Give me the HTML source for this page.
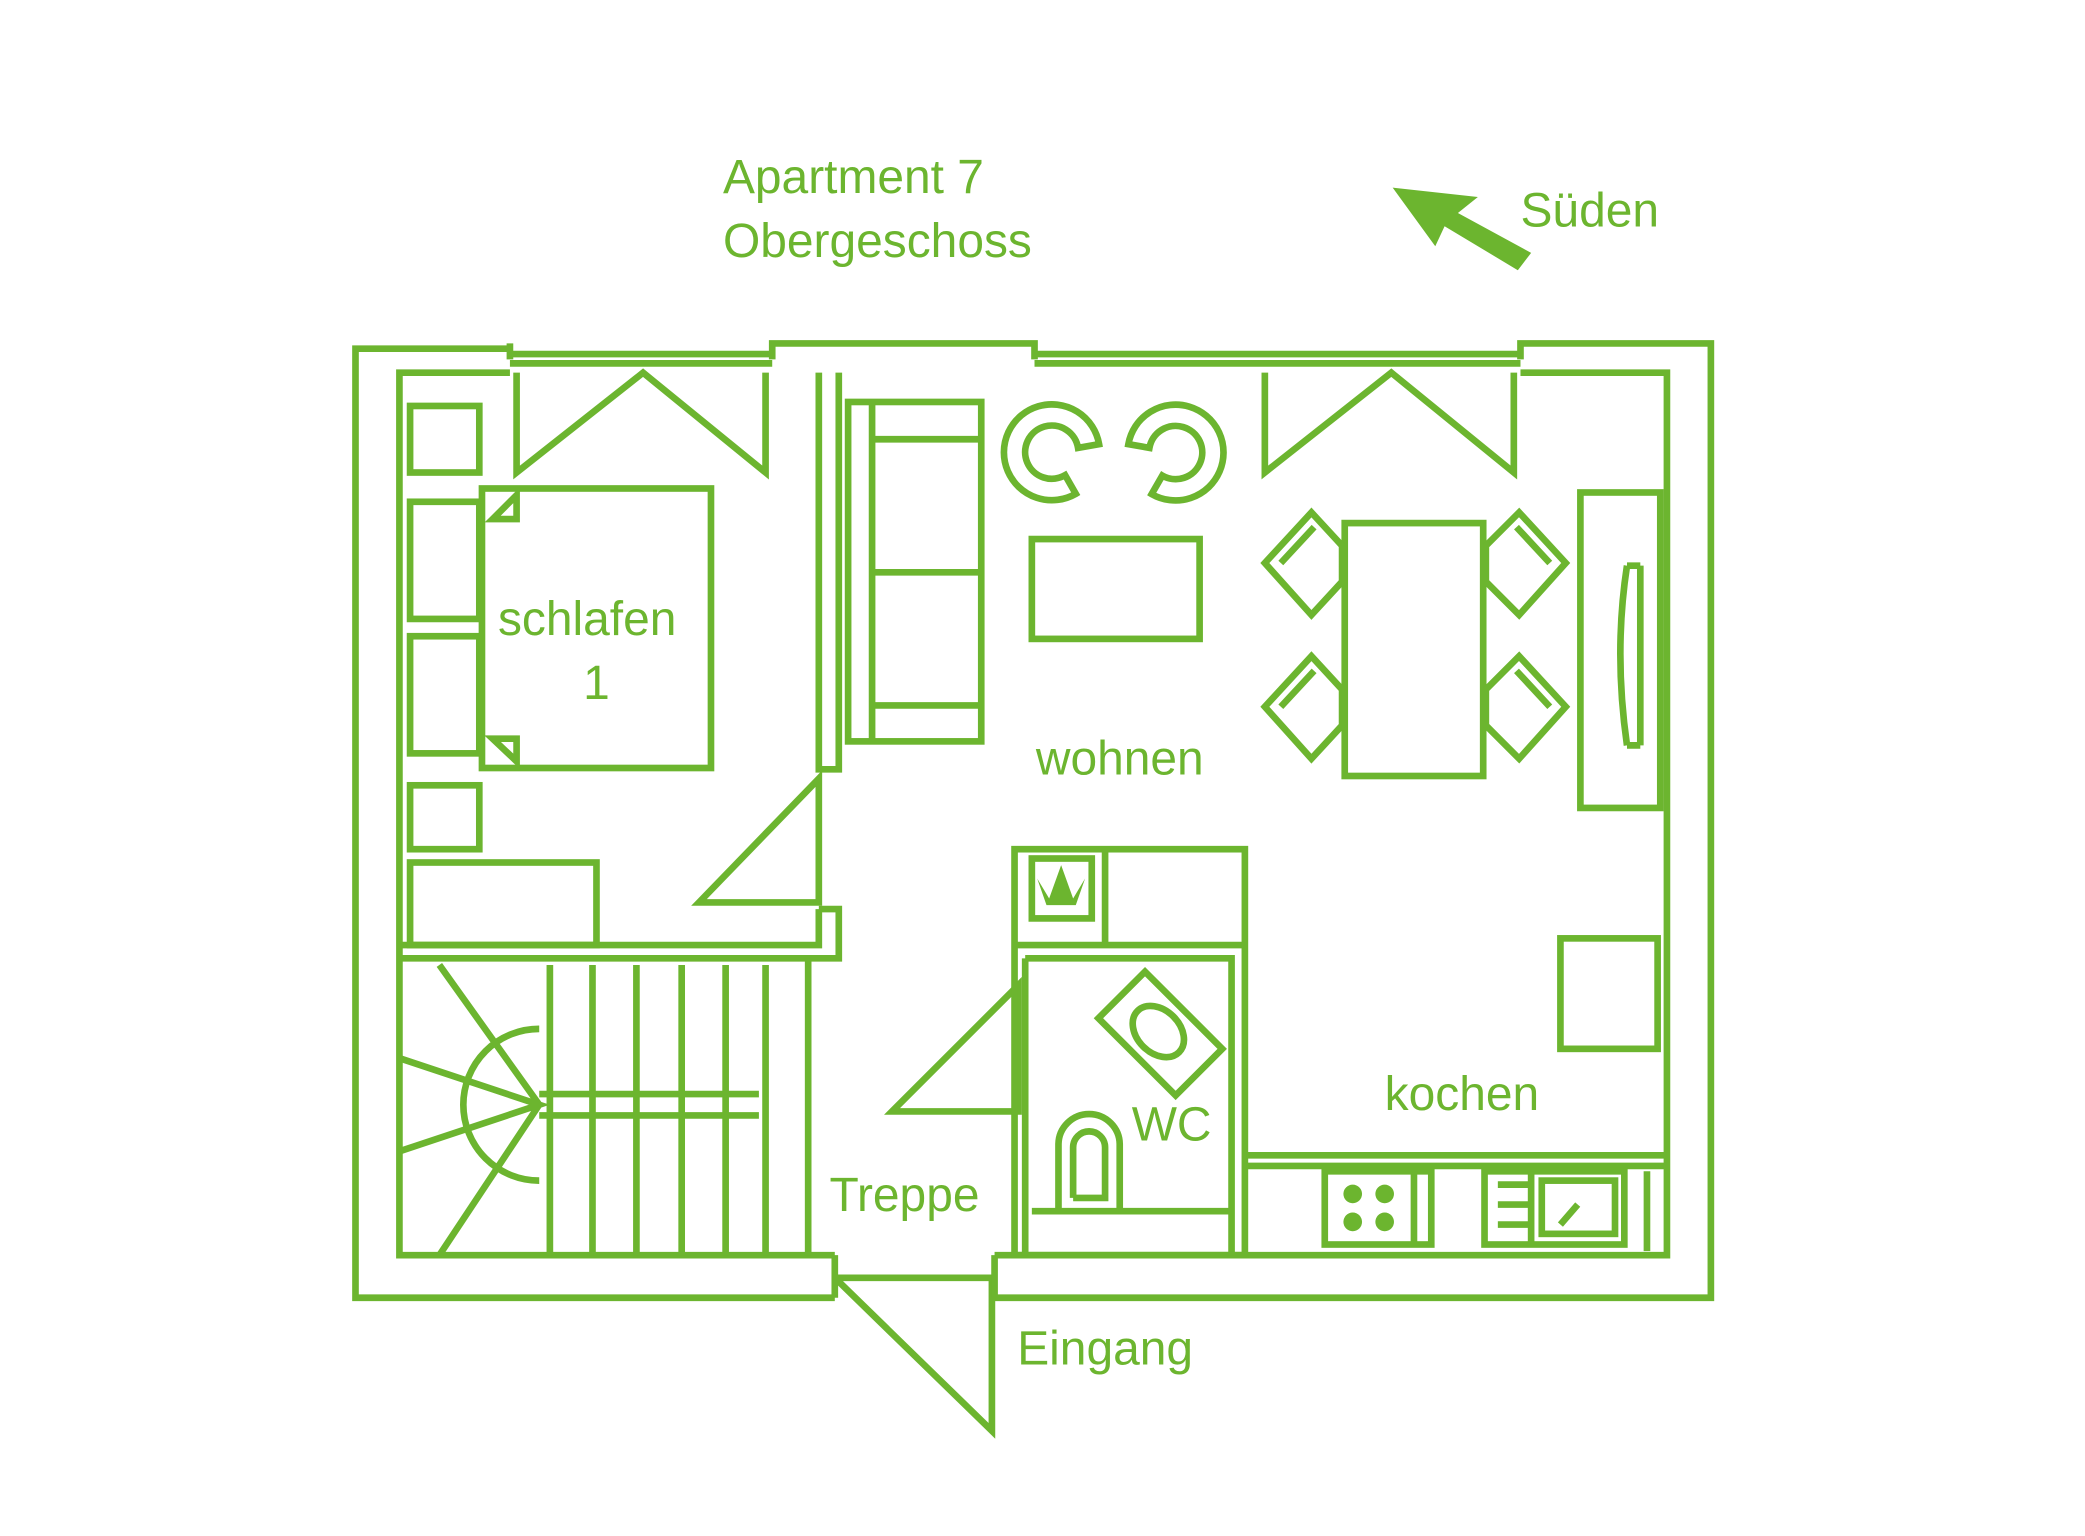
<!DOCTYPE html>
<html><head><style>html,body{margin:0;padding:0;background:#fff}svg{display:block}</style></head>
<body>
<svg width="2085" height="1536" viewBox="0 0 1566 1154" preserveAspectRatio="none" xmlns="http://www.w3.org/2000/svg">
<g fill="none" stroke="#6cb52f" stroke-width="5">
<!-- outer walls -->
<path d="M383 262 H267 V975 H627 M747 975 H1285 V258 H1142 V270 M580 270 V258 H777 V270 M383 270 V258"/>
<path d="M383 266 H580 M383 273 H580 M777 266 H1142 M777 273 H1142"/>
<path d="M383 280 H300 V943 H627 M747 943 H1252 V280 H1142"/>
<!-- schlafen/wohnen wall -->
<path d="M615 280 V578 H630 V280 M615 683 H630 V720 H300 M300 710 H615 V683"/>
<!-- stairs -->
<path d="M607 720 V943"/>
<path d="M413 725 V943 M445 725 V943 M478 725 V943 M512 725 V943 M545 725 V943 M575 725 V943"/>
<path d="M405 822 H570 M405 838 H570 M405 773 A57 57 0 0 0 405 887"/>
<path d="M330 725 L405 830 L330 943 M300 795 L405 830 L300 865"/>
<!-- doors -->
<path d="M525 678 L615 585 V678 Z"/>
<path d="M670 835 L765 740 V835 Z"/>
<path d="M627 960 L745 1075 V960 M627 960 H745"/>
<path d="M627 943 V975 M747 943 V975"/>
<!-- windows triangles -->
<path d="M388 280 V355 L483 280 L575 355 V280"/>
<path d="M950 280 V355 L1045 280 L1137 355 V280"/>
<!-- schlafen furniture -->
<rect x="308" y="305" width="52" height="50"/>
<rect x="308" y="377" width="52" height="88"/>
<rect x="308" y="478" width="52" height="88"/>
<rect x="308" y="590" width="52" height="48"/>
<rect x="308" y="648" width="140" height="62"/>
<rect x="362" y="367" width="172" height="210"/>
<path d="M370 390 L388 372 V390 Z M370 555 L388 572 V555 Z"/>
<!-- sofa -->
<rect x="637" y="302" width="100" height="255"/>
<path d="M655 302 V557 M655 330 H737 M655 430 H737 M655 530 H737"/>
<!-- chairs round -->
<path d="M825.5 333.7 A36 36 0 1 0 808 371 L800 357 A20 20 0 1 1 809.7 336.5 Z"/>
<path d="M847.5 333.7 A36 36 0 1 1 865 371.2 L873 357.3 A20 20 0 1 0 863.3 336.5 Z"/>
<rect x="775" y="405" width="126" height="75"/>
<!-- dining -->
<rect x="1010" y="393" width="104" height="190"/>
<path d="M950 423 L985 385 L1008 410 V437 L985 462 Z M962 423 L987 396"/>
<path d="M950 531 L985 493 L1008 518 V545 L985 570 Z M962 531 L987 504"/>
<path d="M1176 423 L1141 385 L1116 410 V437 L1141 462 Z M1164 423 L1139 396"/>
<path d="M1176 531 L1141 493 L1116 518 V545 L1141 570 Z M1164 531 L1139 504"/>
<!-- tv cabinet -->
<rect x="1187" y="370" width="60" height="237"/>
<path d="M1232 425 V560 M1222 425 Q1212 490 1222 560 M1222 425 H1232 M1222 560 H1232"/>
<rect x="1172" y="705" width="73" height="83"/>
<!-- wc block -->
<rect x="762" y="638" width="173" height="305"/>
<path d="M762 710 H935 M830 638 V710 M770 720 H925 V943 M770 720 V943"/>
<rect x="775" y="645" width="45" height="45"/>
<path d="M775 910 H925"/>
<path d="M795 908 V860 A23 23 0 0 1 841 860 V908 M806 900 V862 A12 12 0 0 1 830 862 V900 H806"/>
<path d="M825 765 L860 730 L918 788 L883 823 Z"/>
<ellipse cx="870" cy="775" rx="22" ry="16" transform="rotate(45 870 775)"/>
<!-- kitchen -->
<path d="M936 868 H1252 M936 876 H1252"/>
<rect x="995" y="880" width="80" height="55"/>
<path d="M1062 880 V935"/>
<rect x="1115" y="880" width="105" height="55"/>
<rect x="1158" y="887" width="55" height="40"/>
<path d="M1125 890 H1148 M1125 905 H1148 M1125 920 H1148 M1150 880 V935 M1237 880 V940 M1172 920 L1185 905"/>
</g>
<g fill="#6cb52f">
<circle cx="1016" cy="897" r="7"/><circle cx="1040" cy="897" r="7"/>
<circle cx="1016" cy="918" r="7"/><circle cx="1040" cy="918" r="7"/>
<path d="M788 675 L797 650 L806 675 L815 660 L808 680 H786 L779 660 Z"/>
<path d="M1046 141 L1110 148 L1095 160 L1150 190 L1140 203 L1085 170 L1078 185 Z"/>
</g>
<g font-family="Liberation Sans, sans-serif" fill="#6cb52f" font-size="36">
<text x="543" y="145">Apartment 7</text>
<text x="543" y="193">Obergeschoss</text>
<text x="1142" y="170">Süden</text>
<text x="374" y="477">schlafen</text>
<text x="438" y="525">1</text>
<text x="778" y="582">wohnen</text>
<text x="850" y="857">WC</text>
<text x="1040" y="834">kochen</text>
<text x="623" y="910">Treppe</text>
<text x="764" y="1025">Eingang</text>
</g>
</svg>
</body></html>
